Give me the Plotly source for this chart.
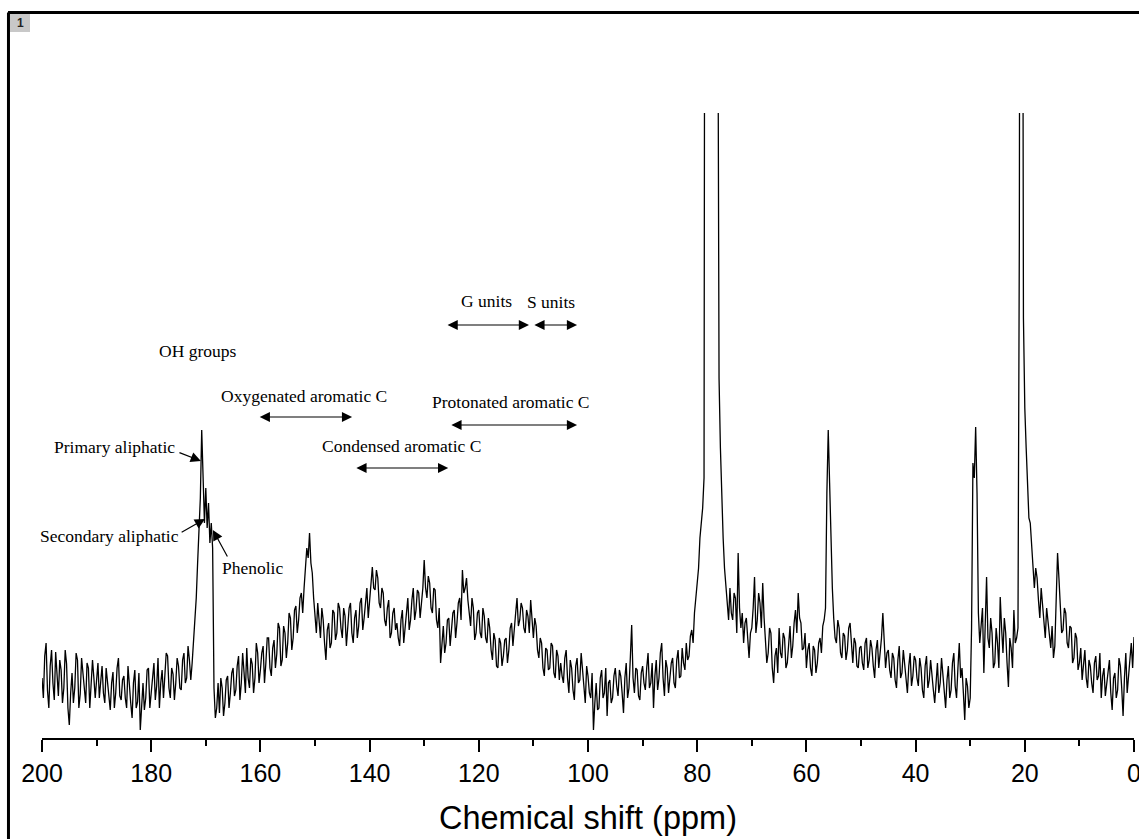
import numpy as np
import plotly.graph_objects as go

# Chemical shift grid (ppm), 200 -> 0 in 0.25 ppm steps
ppm = np.round(np.arange(200.0, -0.1, -0.25), 2)

# Intensity (arbitrary units), region by region.
# *_main: values at whole/half ppm (200.0, 199.5, ...); *_mid: values at the quarter points between them.
carbonyl_main = [  # 200.0 .. 160.5
    60, 82, 48, 72, 55, 86, 42, 68, 50, 74,
    13, 65, 50, 78, 44, 62, 35, 70, 52, 60,
    58, 40, 72, 35, 55, 28, 66, 45, 80, 38,
    62, 30, 50, 20, 68, 36, 8, 55, 40, 70,
    45, 75, 52, 30, 68, 58, 82, 40, 64, 55,
    72, 48, 85, 60, 78, 75, 110, 175, 240, 250,
    250, 235, 215, 50, 30, 25, 50, 35, 62, 45,
    70, 48, 82, 55, 66, 90, 50, 74, 60, 85,
]
carbonyl_mid = [  # 199.75 .. 160.25
    40, 95, 30, 88, 38, 60, 78, 35, 88, 30,
    45, 35, 85, 30, 80, 48, 75, 30, 78, 40,
    75, 60, 45, 70, 40, 55, 30, 70, 42, 58,
    40, 72, 35, 55, 30, 65, 40, 28, 68, 30,
    62, 38, 80, 55, 40, 85, 50, 70, 38, 80,
    50, 78, 55, 92, 58, 95, 140, 205, 308, 215,
    210, 195, 190, 20, 55, 60, 22, 58, 30, 65,
    42, 72, 38, 85, 45, 60, 80, 45, 95, 55,
]
aromatic_main = [  # 160.0 .. 100.5
    68, 92, 75, 100, 62, 98, 84, 110, 78, 105,
    95, 120, 100, 132, 118, 145, 150, 190, 205, 165,
    125, 135, 100, 118, 78, 115, 95, 125, 105, 130,
    100, 122, 108, 135, 95, 128, 112, 140, 120, 150,
    135, 171, 148, 160, 130, 145, 112, 138, 105, 130,
    115, 92, 128, 110, 140, 118, 150, 128, 145, 135,
    178, 140, 155, 125, 148, 110, 75, 112, 95, 120,
    105, 128, 115, 140, 168, 150, 138, 112, 130, 105,
    128, 100, 122, 95, 110, 78, 98, 70, 95, 82,
    100, 88, 115, 105, 140, 118, 130, 105, 122, 138,
    100, 112, 80, 95, 62, 88, 70, 92, 60, 82,
    75, 55, 88, 45, 70, 38, 80, 58, 66, 35,
]
aromatic_mid = [  # 159.75 .. 100.25
    85, 55, 100, 70, 90, 70, 115, 72, 112, 80,
    125, 88, 128, 105, 140, 125, 172, 180, 175, 140,
    105, 112, 130, 95, 108, 90, 128, 98, 135, 110,
    130, 92, 130, 105, 120, 100, 135, 108, 138, 120,
    155, 150, 168, 135, 150, 118, 130, 100, 125, 108,
    100, 118, 95, 130, 108, 138, 118, 148, 120, 150,
    150, 162, 130, 150, 118, 130, 98, 85, 118, 92,
    125, 100, 135, 118, 145, 160, 120, 140, 98, 125,
    105, 130, 100, 120, 88, 105, 72, 100, 72, 98,
    75, 110, 92, 125, 112, 135, 110, 128, 105, 115,
    120, 88, 100, 70, 90, 68, 95, 65, 88, 58,
    62, 80, 60, 78, 48, 72, 55, 85, 45, 72,
]
o_alkyl_main = [  # 100.0 .. 50.5
    62, 40, 8, 55, 30, 68, 45, 22, 58, 40,
    70, 42, 62, 25, 75, 50, 113, 45, 68, 38,
    72, 48, 85, 55, 30, 78, 60, 95, 42, 70,
    58, 80, 50, 88, 62, 75, 95, 82, 108, 125,
    155, 200, 230, 1400, 1600, 1500, 1700, 1300, 360, 240,
    170, 135, 150, 118, 140, 185, 110, 95, 120, 80,
    110, 161, 118, 135, 155, 100, 85, 105, 55, 90,
    110, 80, 100, 75, 112, 92, 128, 145, 115, 90,
    70, 95, 62, 88, 75, 100, 112, 130, 308, 185,
    120, 95, 110, 80, 102, 88, 115, 75, 95, 70,
]
o_alkyl_mid = [  # 99.75 .. 50.25
    45, 65, 35, 28, 60, 40, 70, 55, 35, 62,
    52, 68, 45, 60, 40, 80, 60, 70, 42, 65,
    55, 70, 50, 75, 62, 48, 85, 60, 78, 45,
    75, 55, 78, 60, 90, 68, 78, 102, 95, 140,
    170, 215, 260, 1500, 1550, 1600, 1500, 800, 290, 200,
    150, 118, 125, 145, 105, 130, 125, 115, 95, 105,
    130, 105, 145, 110, 120, 75, 110, 70, 82, 65,
    85, 105, 70, 100, 80, 115, 105, 120, 88, 105,
    88, 70, 92, 65, 95, 85, 118, 245, 255, 150,
    100, 118, 85, 105, 78, 110, 92, 100, 72, 90,
]
alkyl_main = [  # 50.0 .. 0.0
    92, 68, 100, 78, 90, 60, 98, 82, 125, 70,
    88, 60, 80, 50, 92, 65, 75, 45, 85, 62,
    78, 52, 70, 40, 82, 58, 66, 35, 75, 55,
    62, 30, 72, 48, 85, 40, 95, 70, 18, 52,
    40, 275, 311, 125, 110, 65, 161, 90, 105, 75,
    95, 141, 85, 105, 51, 90, 128, 100, 500, 1200,
    330, 250, 215, 178, 170, 138, 150, 118, 130, 100,
    112, 92, 185, 135, 108, 125, 90, 110, 80, 100,
    75, 58, 88, 50, 72, 45, 82, 62, 40, 70,
    55, 78, 28, 65, 48, 72, 22, 85, 60, 95,
    101,
]
alkyl_mid = [  # 49.75 .. 0.25
    75, 95, 70, 98, 72, 88, 70, 100, 90, 85,
    68, 85, 58, 78, 60, 88, 55, 72, 52, 82,
    60, 80, 48, 72, 50, 78, 48, 62, 45, 80,
    45, 58, 40, 75, 52, 70, 60, 45, 60, 30,
    110, 260, 245, 95, 130, 120, 100, 120, 70, 110,
    70, 110, 120, 75, 100, 70, 95, 110, 1600, 420,
    290, 220, 190, 150, 160, 120, 135, 100, 115, 90,
    80, 150, 160, 105, 130, 95, 112, 75, 105, 68,
    90, 72, 60, 78, 55, 75, 58, 85, 62, 42,
    72, 45, 60, 40, 80, 50, 60, 45, 82, 70,
]

main_vals = carbonyl_main + aromatic_main + o_alkyl_main + alkyl_main
mid_vals = carbonyl_mid + aromatic_mid + o_alkyl_mid + alkyl_mid
intensity = []
for a, b in zip(main_vals[:-1], mid_vals):
    intensity.extend([a, b])
intensity.append(main_vals[-1])

tick_values = [200, 180, 160, 140, 120, 100, 80, 60, 40, 20, 0]
tick_labels = ["200", "180", "160", "140", "120", "100", "80", "60", "40", "20", "0"]

# Region labels: (text, x ppm, y)
labels = [
    ("OH groups", 171.6, 387),
    ("Primary aliphatic", 186.8, 291),
    ("Secondary aliphatic", 187.7, 202),
    ("Phenolic", 161.4, 170),
    ("Oxygenated aromatic C", 152.1, 342),
    ("Condensed aromatic C", 134.2, 292),
    ("G units", 118.5, 437),
    ("S units", 106.7, 436),
    ("Protonated aromatic C", 114.2, 336),
]
# Double-headed range arrows: (start ppm, end ppm, y)
ranges = [
    (160.4, 143.2, 321),
    (142.7, 125.6, 270),
    (126.0, 110.8, 413),
    (110.1, 102.0, 413),
    (125.3, 102.0, 313),
]
# Pointer arrows: (tail x, tail y, head x, head y)
pointers = [
    (175.1, 286, 170.9, 277),
    (174.7, 205, 170.15, 219),
    (165.9, 180, 168.7, 208),
]

fig = go.Figure()
fig.add_trace(go.Scatter(x=ppm, y=intensity, mode="lines",
                         line=dict(color="black", width=1.3),
                         showlegend=False, hoverinfo="skip"))

serif = dict(family="Liberation Serif, Times New Roman, serif", size=17.5, color="black")
annotations = []
for t, x, y in labels:
    annotations.append(dict(x=x, y=y, xref="x", yref="y", text=t, showarrow=False,
                            font=serif, xanchor="center", yanchor="middle"))
for x0, x1, y in ranges:
    annotations.append(dict(x=x1, y=y, ax=x0, ay=y, xref="x", yref="y", axref="x", ayref="y",
                            text="", showarrow=True, arrowhead=2, arrowsize=1.7, arrowwidth=1.2,
                            arrowside="end+start", arrowcolor="black", standoff=0, startstandoff=0))
for tx, ty, hx, hy in pointers:
    annotations.append(dict(x=hx, y=hy, ax=tx, ay=ty, xref="x", yref="y", axref="x", ayref="y",
                            text="", showarrow=True, arrowhead=2, arrowsize=1.7, arrowwidth=1.2,
                            arrowcolor="black", standoff=0))
annotations.append(dict(x=-0.0201, y=1.1440, xref="paper", yref="paper", text="<b>1</b>",
                        showarrow=False, font=dict(family="Liberation Sans, Arial", size=12, color="#222"),
                        xanchor="center", yanchor="middle"))

shapes = [
    dict(type="rect", xref="paper", yref="paper", x0=-0.0293, x1=-0.0110, y0=1.1296, y1=1.1584,
         fillcolor="#c8c8c8", line=dict(width=0), layer="below"),
    dict(type="line", xref="paper", yref="paper", x0=-0.0311, x1=1.02, y0=1.1608, y1=1.1608,
         line=dict(color="black", width=3)),
    dict(type="line", xref="paper", yref="paper", x0=-0.0307, x1=-0.0307, y0=1.1608, y1=-0.18,
         line=dict(color="black", width=3)),
]

fig.update_layout(
    width=1139, height=839,
    margin=dict(l=42, r=5, t=113, b=101, autoexpand=False),
    plot_bgcolor="white", paper_bgcolor="white",
    annotations=annotations, shapes=shapes,
    xaxis=dict(range=[200, 0], tickvals=tick_values, ticktext=tick_labels,
               showline=True, linecolor="black", linewidth=2, mirror=False,
               ticks="outside", ticklen=12, tickwidth=2, tickcolor="black",
               minor=dict(ticks="outside", ticklen=6, tickwidth=2, dtick=10, tickcolor="black"),
               showgrid=False, zeroline=False, ticklabeloverflow="allow", automargin=False,
               tickfont=dict(family="Liberation Sans, Arial", size=25, color="black"),
               title=dict(text="Chemical shift (ppm)", standoff=20,
                          font=dict(family="Liberation Sans, Arial", size=32.5, color="black"))),
    yaxis=dict(range=[0, 625], visible=False, showgrid=False, zeroline=False),
)

fig.write_html("out.html", config={"displayModeBar": False},
               post_script="document.body.style.margin='0';")
